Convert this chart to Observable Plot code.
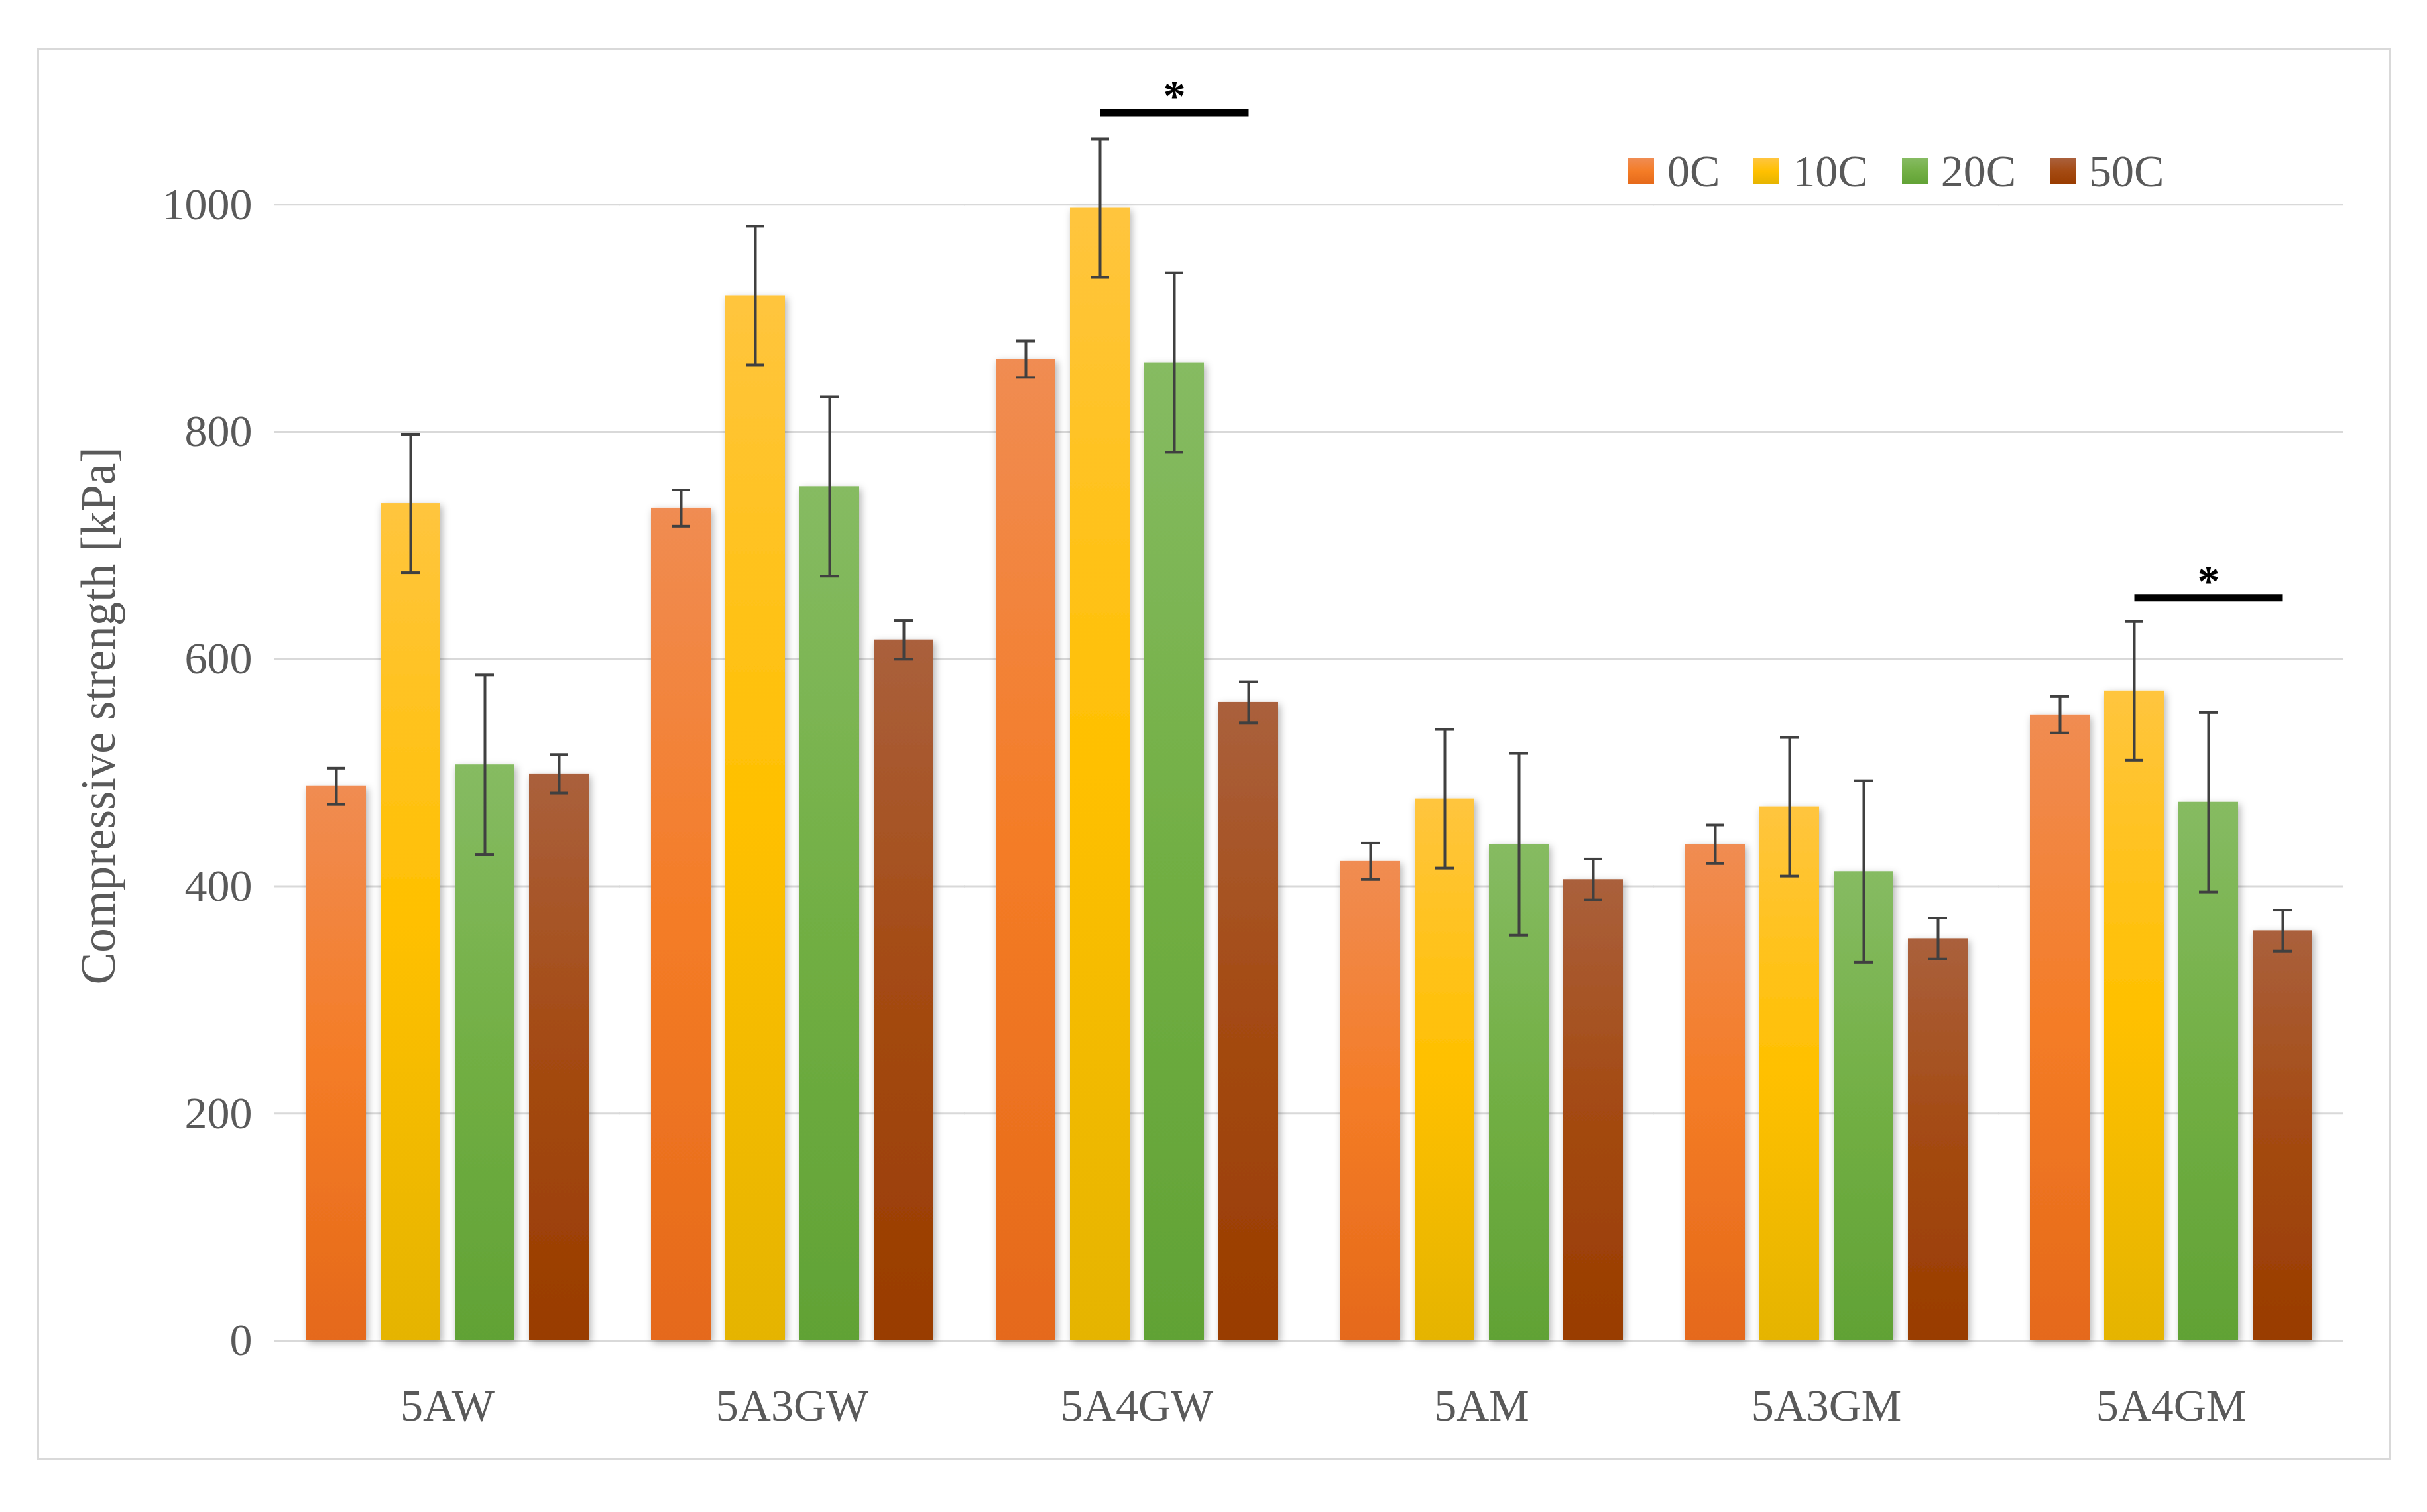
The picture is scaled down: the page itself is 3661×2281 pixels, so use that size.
<!DOCTYPE html>
<html>
<head>
<meta charset="utf-8">
<script src="https://cdn.jsdelivr.net/npm/d3@7"></script>
<script src="https://cdn.jsdelivr.net/npm/@observablehq/plot@0.6"></script>
<style>
  html, body { margin: 0; padding: 0; background: #ffffff; }
  #wrap { position: relative; width: 3661px; height: 2281px; overflow: hidden; background: #fff; }
  #frame { position: absolute; left: 56px; top: 72px; width: 3551px; height: 2130px; border: 3px solid #d9d9d9; box-sizing: border-box; pointer-events: none; }
  #legend { position: absolute; left: 2456px; top: 218px; height: 80px; display: flex; align-items: center; gap: 51px;
            font-family: "Liberation Serif", serif; font-size: 68px; color: #595959; }
  .item { display: flex; align-items: center; gap: 20px; line-height: 80px; }
  .sw { width: 39px; height: 39px; }
  #chart { position: absolute; left: 0; top: 0; }
</style>
</head>
<body>
<div id="wrap">
  <div id="frame"></div>
  <div id="chart"></div>
  <div id="legend"></div>
</div>
<script>
// ---- data ----
const groups = ["5AW", "5A3GW", "5A4GW", "5AM", "5A3GM", "5A4GM"];
const series = ["0C", "10C", "20C", "50C"];

const mean0C  = [488, 733, 864, 422, 437, 551];
const mean10C = [737, 920, 997, 477, 470, 572];
const mean20C = [507, 752, 861, 437, 413, 474];
const mean50C = [499, 617, 562, 406, 354, 361];

const err0C  = [16, 16, 16, 16, 17, 16];
const err10C = [61, 61, 61, 61, 61, 61];
const err20C = [79, 79, 79, 80, 80, 79];
const err50C = [17, 17, 18, 18, 18, 18];

const yTicks = [0, 200, 400, 600, 800, 1000];

// significance brackets
const sigGroup = ["5A4GW", "5A4GM"];
const sigFrom  = ["10C", "10C"];
const sigTo    = ["50C", "50C"];
const sigMid   = ["20C", "20C"];
const sigY     = [1081, 654];

// gradient colours (top, middle, bottom) per series
const gradTop = ["#f08c52", "#ffc53e", "#86bb62", "#aa603c"];
const gradMid = ["#f47c26", "#ffc000", "#72af44", "#a44a12"];
const gradBot = ["#e5691a", "#e5b400", "#61a235", "#993c00"];

// ---- build tables ----
const means = [mean0C, mean10C, mean20C, mean50C];
const errs = [err0C, err10C, err20C, err50C];
const rows = [];
groups.forEach((g, i) => series.forEach((s, j) => {
  rows.push({group: g, series: s, value: means[j][i], err: errs[j][i]});
}));
const sigPoints = [];
const sigLabels = [];
sigGroup.forEach((g, i) => {
  sigPoints.push({group: g, series: sigFrom[i], y: sigY[i]});
  sigPoints.push({group: g, series: sigTo[i], y: sigY[i]});
  sigLabels.push({group: g, series: sigMid[i], y: sigY[i]});
});
const gradId = (s) => "grad" + s;

const chart = Plot.plot({
  width: 3661,
  height: 2281,
  marginLeft: 412,
  marginRight: 124,
  marginTop: 137,
  marginBottom: 259,
  style: {fontFamily: "Liberation Serif, serif", fontSize: "64px", color: "#595959", background: "transparent"},
  fx: {domain: groups, paddingInner: 0.132, paddingOuter: 0.066, label: null},
  x: {domain: series, paddingInner: 0.2, paddingOuter: 0.1, axis: null},
  y: {domain: [0, 1100]},
  color: {type: "ordinal", domain: series, range: series.map(s => `url(#${gradId(s)})`)},
  marks: [
    Plot.ruleY(yTicks, {stroke: "#d9d9d9", strokeWidth: 3, insetLeft: -35, insetRight: -35}),
    Plot.barY(rows, {fx: "group", x: "series", y: "value", fill: "series"}),
    Plot.ruleX(rows, {fx: "group", x: "series", y1: d => d.value - d.err, y2: d => d.value + d.err, stroke: "#404040", strokeWidth: 4}),
    Plot.tickY(rows, {fx: "group", x: "series", y: d => d.value + d.err, stroke: "#404040", strokeWidth: 4, insetLeft: 31, insetRight: 31}),
    Plot.tickY(rows, {fx: "group", x: "series", y: d => d.value - d.err, stroke: "#404040", strokeWidth: 4, insetLeft: 31, insetRight: 31}),
    Plot.line(sigPoints, {fx: "group", x: "series", y: "y", z: "group", stroke: "#000", strokeWidth: 11, strokeLinecap: "butt"}),
    Plot.text(sigLabels, {fx: "group", x: "series", y: "y", text: () => "*", fontWeight: "bold", fontSize: 68, fill: "#000", lineAnchor: "middle", dy: -25}),
    Plot.axisY(yTicks, {tickSize: 0, tickPadding: 69, fontSize: 68, tickFormat: d3.format("d"), label: null}),
    Plot.axisY([], {tickSize: 0, fontSize: 73, label: "Compressive strength [kPa]", labelAnchor: "center", labelArrow: "none", labelOffset: 328}),
    Plot.axisFx({anchor: "bottom", tickSize: 0, tickPadding: 72, fontSize: 68, label: null})
  ]
});

// gradients + shadow
const svg = d3.select(chart);
const defs = svg.insert("defs", ":first-child");
series.forEach((s, j) => {
  const lg = defs.append("linearGradient").attr("id", gradId(s)).attr("x1", 0).attr("y1", 0).attr("x2", 0).attr("y2", 1);
  lg.append("stop").attr("offset", "0%").attr("stop-color", gradTop[j]);
  lg.append("stop").attr("offset", "50%").attr("stop-color", gradMid[j]);
  lg.append("stop").attr("offset", "100%").attr("stop-color", gradBot[j]);
});
const f = defs.append("filter").attr("id", "shadow").attr("x", "-30%").attr("y", "-10%").attr("width", "160%").attr("height", "120%");
f.append("feDropShadow").attr("dx", 3).attr("dy", 4).attr("stdDeviation", 6).attr("flood-color", "#000").attr("flood-opacity", 0.3);
svg.selectAll('g[aria-label="bar"]').attr("filter", "url(#shadow)");

document.getElementById("chart").appendChild(chart);

// legend
const legend = d3.select("#legend");
series.forEach((s, j) => {
  const it = legend.append("div").attr("class", "item");
  it.append("div").attr("class", "sw")
    .style("background", `linear-gradient(to bottom, ${gradTop[j]}, ${gradMid[j]} 50%, ${gradBot[j]})`);
  it.append("span").text(s);
});
</script>
</body>
</html>
